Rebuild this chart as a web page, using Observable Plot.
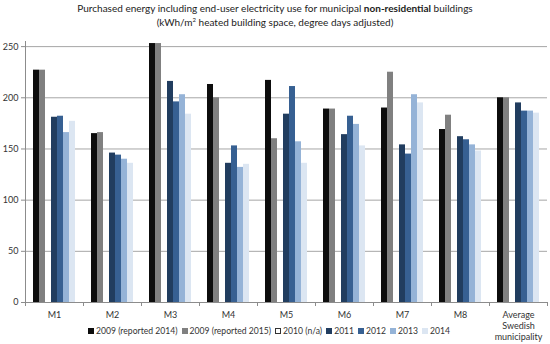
<!DOCTYPE html>
<html><head><meta charset="utf-8">
<script src="https://cdn.jsdelivr.net/npm/d3@7"></script>
<script src="https://cdn.jsdelivr.net/npm/@observablehq/plot@0.6"></script>
<style>
body{margin:0;background:#fff;font-family:Lato,"Open Sans",sans-serif;}
#wrap{position:relative;width:550px;height:344px;overflow:hidden;}
#title{height:34px;text-align:center;font-size:10px;color:#222;line-height:14px;padding-top:1px;box-sizing:border-box;}
#title sup{font-size:6px;line-height:0;}
#legend{position:absolute;left:88px;top:326px;display:flex;font-size:8.6px;color:#333;}
#legend .it{display:flex;align-items:center;margin-right:4px;white-space:nowrap;}
#legend .sw{width:6px;height:6px;margin-right:2px;box-sizing:border-box;}
</style></head>
<body>
<div id="wrap">
  <div id="title">Purchased energy including end-user electricity use for municipal <b>non-residential</b> buildings<br>(kWh/m<sup>2</sup> heated building space, degree days adjusted)</div>
  <div id="chart"></div>
  <div id="legend"></div>
</div>
<script>
const groups = ["M1","M2","M3","M4","M5","M6","M7","M8","Average Swedish municipality"];
const series = ["2009 (reported 2014)","2009 (reported 2015)","2010 (n/a)","2011","2012","2013","2014"];
const colors = ["#0d0d0d","#808080","#ffffff","#213d5f","#376092","#95b3d7","#dce6f2"];
const v2009r2014 = [227,165,253,213,217,189,190,169,200];
const v2009r2015 = [227,166,253,200,160,189,225,183,200];
const v2011 = [181,146,216,136,184,164,154,162,195];
const v2012 = [182,144,196,153,211,182,145,159,187];
const v2013 = [166,140,203,132,157,174,203,154,187];
const v2014 = [177,136,184,135,136,153,195,148,185];
const yTicks = [0,50,100,150,200,250];

const valueSets = [
  [series[0], v2009r2014],
  [series[1], v2009r2015],
  [series[3], v2011],
  [series[4], v2012],
  [series[5], v2013],
  [series[6], v2014]
];
const rows = [];
for (const [s, vals] of valueSets) vals.forEach((v, i) => rows.push({group: groups[i], series: s, value: v}));

const labelFmt = d => d === "Average Swedish municipality" ? "Average\nSwedish\nmunicipality" : d;

const chart = Plot.plot({
  width: 550, height: 310,
  marginTop: 7, marginBottom: 42, marginLeft: 25, marginRight: 3,
  style: {fontFamily: "Lato, 'Open Sans', sans-serif", fontSize: "9px", color: "#333", background: "#fff"},
  fx: {domain: groups, padding: 0, label: null},
  x: {domain: series, paddingInner: 0, paddingOuter: 0.82, axis: null},
  y: {domain: [0, 255], axis: null},
  color: {domain: series, range: colors},
  marks: [
    Plot.gridY(yTicks, {stroke: "#a6a6a6", strokeOpacity: 1}),
    Plot.barY(rows, {fx: "group", x: "series", y: "value", fill: "series"}),
    Plot.ruleY([0], {stroke: "#8c8c8c"}),
    Plot.axisY(yTicks, {tickSize: 4, tickPadding: 3, stroke: "#8c8c8c", label: null}),
    Plot.axisFx({anchor: "bottom", tickSize: 0, tickPadding: 8, label: null, tickFormat: labelFmt, lineHeight: 1.2}),
    Plot.axisFx({anchor: "bottom", tickSize: 4, dx: -29, tickFormat: () => "", label: null, stroke: "#8c8c8c"}),
    Plot.axisFx({anchor: "bottom", ticks: [groups[groups.length - 1]], tickSize: 4, dx: 29, tickFormat: () => "", label: null, stroke: "#8c8c8c"}),
    Plot.frame({anchor: "left", stroke: "#8c8c8c", facet: "super"})
  ]
});
document.getElementById("chart").appendChild(chart);

const legend = document.getElementById("legend");
series.forEach((s, i) => {
  const it = document.createElement("div"); it.className = "it";
  const sw = document.createElement("span"); sw.className = "sw";
  sw.style.background = colors[i];
  if (colors[i] === "#ffffff") sw.style.border = "1px solid #333";
  const tx = document.createElement("span"); tx.textContent = s;
  it.appendChild(sw); it.appendChild(tx); legend.appendChild(it);
});
</script>
</body></html>
